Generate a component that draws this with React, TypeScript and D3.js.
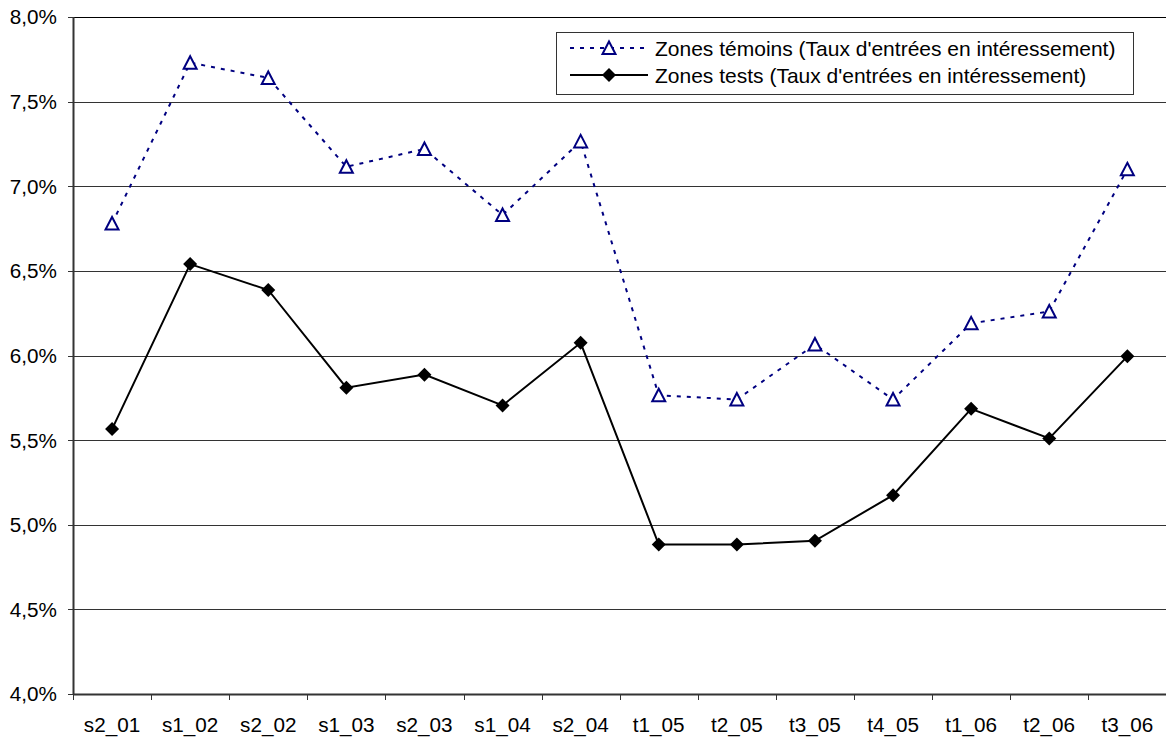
import React from "react";
import * as d3 from "d3";

const categories = ["s2_01","s1_02","s2_02","s1_03","s2_03","s1_04","s2_04","t1_05","t2_05","t3_05","t4_05","t1_06","t2_06","t3_06"];
const temoins = [6.78, 7.73, 7.64, 7.115, 7.22, 6.83, 7.265, 5.765, 5.74, 6.065, 5.74, 6.19, 6.26, 7.10];
const tests = [5.565, 6.54, 6.387, 5.81, 5.887, 5.705, 6.075, 4.883, 4.883, 4.905, 5.175, 5.685, 5.51, 5.995];
const yTicks = [4.0, 4.5, 5.0, 5.5, 6.0, 6.5, 7.0, 7.5, 8.0];
const legendLabels = ["Zones témoins (Taux d'entrées en intéressement)", "Zones tests (Taux d'entrées en intéressement)"];

const W = 1166, H = 740;
const left = 73, right = 1166.4, top = 17, bottom = 694;
const FONT = "'Liberation Sans', Arial, sans-serif";

export default function App() {
  const x = d3.scaleBand<string>().domain(categories).range([left, right]).padding(0);
  const y = d3.scaleLinear().domain([4, 8]).range([bottom, top]);
  const cx = (c: string) => (x(c) as number) + x.bandwidth() / 2;
  const fmt = (v: number) => v.toFixed(1).replace(".", ",") + "%";

  const line = d3.line<number>().x((_, i) => cx(categories[i])).y((v) => y(v));
  const boundaries = categories.map((c) => x(c) as number).concat([right]);

  const diamond = "M0,-7L7,0L0,7L-7,0Z";
  const triangle = "M0,-6.5L6.5,6L-6.5,6Z";

  return (
    <svg width={W} height={H} style={{ position: "absolute", left: 0, top: 0, background: "#fff" }} fontFamily={FONT}>
      <rect x={0} y={0} width={W} height={H} fill="#fff" />
      {yTicks.map((t) => (
        <g key={t}>
          {t > 4 && (
            <line x1={left} x2={W} y1={Math.round(y(t)) + 0.5} y2={Math.round(y(t)) + 0.5} stroke={t === 8 ? "#000" : "#333"} strokeWidth={1} />
          )}
          <line x1={left - 5} x2={left} y1={Math.round(y(t)) + 0.5} y2={Math.round(y(t)) + 0.5} stroke="#333" strokeWidth={1} />
          <text x={57} y={y(t)} dy="0.36em" textAnchor="end" fontSize={20.7} fill="#000">{fmt(t)}</text>
        </g>
      ))}
      {/* axes */}
      <line x1={left + 0.5} x2={left + 0.5} y1={top} y2={bottom} stroke="#333" strokeWidth={2} />
      <line x1={left} x2={W} y1={bottom + 0.5} y2={bottom + 0.5} stroke="#333" strokeWidth={2} />
      {boundaries.map((b, i) => (
        <line key={i} x1={Math.round(b) + 0.5} x2={Math.round(b) + 0.5} y1={bottom} y2={bottom + 6} stroke="#333" strokeWidth={1} />
      ))}
      {categories.map((c) => (
        <text key={c} x={cx(c)} y={732} textAnchor="middle" fontSize={20.7} fill="#000">{c}</text>
      ))}
      {/* series */}
      <path d={line(temoins) || ""} fill="none" stroke="#000080" strokeWidth={2} strokeDasharray="4 6" />
      {temoins.map((v, i) => (
        <path key={i} d={triangle} transform={`translate(${cx(categories[i])},${y(v)})`} fill="#fff" stroke="#000080" strokeWidth={2} />
      ))}
      <path d={line(tests) || ""} fill="none" stroke="#000" strokeWidth={2} />
      {tests.map((v, i) => (
        <path key={i} d={diamond} transform={`translate(${cx(categories[i])},${y(v)})`} fill="#000" />
      ))}
      {/* legend */}
      <rect x={556.5} y={32.5} width={577} height={62} fill="#fff" stroke="#333" strokeWidth={1} />
      <line x1={570} x2={648} y1={48} y2={48} stroke="#000080" strokeWidth={2} strokeDasharray="4 6" />
      <path d={triangle} transform="translate(609,48)" fill="#fff" stroke="#000080" strokeWidth={2} />
      <text x={655} y={48} dy="0.36em" fontSize={21} fill="#000">{legendLabels[0]}</text>
      <line x1={570} x2={648} y1={75} y2={75} stroke="#000" strokeWidth={2} />
      <path d={diamond} transform="translate(609,75)" fill="#000" />
      <text x={655} y={75} dy="0.36em" fontSize={21} fill="#000">{legendLabels[1]}</text>
    </svg>
  );
}
